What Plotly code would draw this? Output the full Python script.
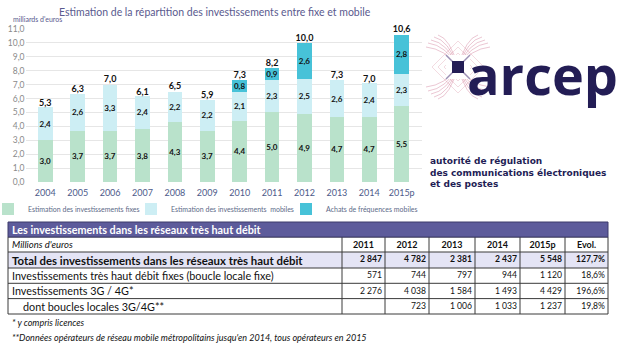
import plotly.graph_objects as go

W, H = 620, 350
def px(x): return x / W
def py(y): return 1 - y / H

# ---------------- data ----------------
years = ["2004", "2005", "2006", "2007", "2008", "2009", "2010", "2011", "2012", "2013", "2014", "2015p"]
fixes = [3.0, 3.7, 3.7, 3.8, 4.3, 3.7, 4.4, 5.0, 4.9, 4.7, 4.7, 5.5]
mobiles = [2.4, 2.6, 3.3, 2.4, 2.2, 2.2, 2.1, 2.3, 2.5, 2.6, 2.4, 2.3]
achats = [None, None, None, None, None, None, 0.8, 0.9, 2.6, None, None, 2.8]
totals = [5.3, 6.3, 7.0, 6.1, 6.5, 5.9, 7.3, 8.2, 10.0, 7.3, 7.0, 10.6]

tab_years = ["2011", "2012", "2013", "2014", "2015p"]
row_labels = ["Total des investissements dans les réseaux très haut débit",
              "Investissements très haut débit fixes (boucle locale fixe)",
              "Investissements 3G / 4G*",
              "dont boucles locales 3G/4G**"]
row_total = [2847, 4782, 2381, 2437, 5548]
row_fixes = [571, 744, 797, 944, 1120]
row_3g4g = [2276, 4038, 1584, 1493, 4429]
row_boucles = [None, 723, 1006, 1033, 1237]
evol = [127.7, 18.6, 196.6, 19.8]

C_FIX = "#b9e2cb"
C_MOB = "#cdeef4"
C_ACH = "#47c2d8"
NAVY = "#231d55"
TXT = "#5a5a8e"

fig = go.Figure()
bar_common = dict(texttemplate="<b>%{y:.1f}</b>", textposition="inside",
                  insidetextanchor="middle", textangle=0,
                  textfont=dict(size=8, color="#111", family="Lato"),
                  marker_line_width=0)
fig.add_trace(go.Bar(x=years, y=fixes, name="Estimation des investissements fixes",
                     marker_color=C_FIX, legend="legend", **bar_common))
fig.add_trace(go.Bar(x=years, y=mobiles, name="Estimation des investissements  mobiles",
                     marker_color=C_MOB, legend="legend2", **bar_common))
fig.add_trace(go.Bar(x=years, y=achats, name="Achats de fréquences mobiles",
                     marker_color=C_ACH, legend="legend3", **bar_common))
fig.add_trace(go.Scatter(x=years, y=totals, mode="text", texttemplate="<b>%{y:.1f}</b>",
                         textposition="top center", showlegend=False, hoverinfo="skip",
                         cliponaxis=False,
                         textfont=dict(size=9, color="#111", family="Lato")))

def legend_at(text_x):
    # item text starts 30px after the legend's left edge (itemwidth 30, indentation -10)
    return dict(orientation="h", x=px(text_x - 30), xanchor="left", y=py(209), yanchor="middle",
                font=dict(size=7, color="#5d6a88", family="Lato"),
                itemwidth=30, indentation=-10, bgcolor="rgba(0,0,0,0)")

fig.update_layout(
    width=W, height=H, margin=dict(l=0, r=0, t=0, b=0, autoexpand=False),
    paper_bgcolor="white", plot_bgcolor="white",
    barmode="stack", bargap=0.55, separators=", ",
    uniformtext=dict(minsize=8, mode="show"),
    font=dict(family="Lato", color=TXT),
    xaxis=dict(domain=[px(25.5), px(421.5)], anchor="y", showline=False, automargin=False,
               ticklabelstandoff=4,
               tickfont=dict(size=9, color="#4d5a8a", family="Lato"), ticks=""),
    yaxis=dict(domain=[py(182), py(29)], range=[0, 11], dtick=1, tickformat=".1f",
               gridcolor="#e6e6e6", zeroline=False, showline=False, automargin=False,
               tickfont=dict(size=8.5, color="#8a8a8a", family="Lato"), ticks=""),
    legend=legend_at(28),
    legend2=legend_at(171),
    legend3=legend_at(326),
)

# ---------------- table ----------------
NB = "\u00a0"
def nb(s):
    return s.replace(" ", NB)

def fmt(v):
    if v is None:
        return ""
    return f"{v:,}".replace(",", "\u202f")

def pct(v):
    return f"{v:.1f}".replace(".", ",") + "%"

def row_values(label, vals, ev, indent=0):
    return [NB * indent + nb(label)] + [fmt(v) for v in vals] + [pct(ev)]

r_total = row_values(row_labels[0], row_total, evol[0])
r_fixes = row_values(row_labels[1], row_fixes, evol[1])
r_3g4g = row_values(row_labels[2], row_3g4g, evol[2])
r_bouc = row_values(row_labels[3], row_boucles, evol[3], indent=4)

# drawn grid (column borders, row borders) of the table
BX = [8, 342, 385, 429, 475, 520, 565, 608]
BY = [237, 252, 268, 283.3, 298.6, 314]
SHIFT = 4          # plotly's table text sits low in short rows; lift the text layer
CLEAR = "rgba(0,0,0,0)"
NOLINE = dict(color=CLEAR, width=0)

# column edges of the text layers (left text pad 4px, right text pad 3px like the original)
hdr_edges = [BX[0] - 4] + BX[1:]
num_edges = [BX[0] - 4] + [b + 5 for b in BX[1:]]
hdr_w = [b - a for a, b in zip(hdr_edges[:-1], hdr_edges[1:])]
num_w = [b - a for a, b in zip(num_edges[:-1], num_edges[1:])]

# header row (Millions d'euros / years)
fig.add_trace(go.Table(
    domain=dict(x=[px(hdr_edges[0]), px(hdr_edges[-1])], y=[py(262), py(BY[0] - SHIFT)]),
    columnwidth=hdr_w,
    header=dict(values=[nb("Millions d'euros")] + tab_years + ["Evol."],
                align=["left"] + ["center"] * 6, height=BY[1] - BY[0],
                fill_color=CLEAR, line=NOLINE,
                font=dict(family="Lato", size=[9.5] + [9] * 6, color="#111",
                          weight=[400] + [700] * 6, style=["italic"] + ["normal"] * 6)),
))
# total row (bold)
fig.add_trace(go.Table(
    domain=dict(x=[px(num_edges[0]), px(num_edges[-1])], y=[py(278), py(BY[1] - SHIFT)]),
    columnwidth=num_w,
    header=dict(values=r_total, align=["left"] + ["right"] * 6, height=BY[2] - BY[1],
                fill_color=CLEAR, line=NOLINE,
                font=dict(family="Lato", size=[11.4] + [8.6] * 6, color="#111", weight=700)),
))
# other rows
fig.add_trace(go.Table(
    domain=dict(x=[px(num_edges[0]), px(num_edges[-1])], y=[py(330), py(BY[2] - SHIFT)]),
    columnwidth=num_w,
    header=dict(values=r_fixes, align=["left"] + ["right"] * 6, height=BY[3] - BY[2],
                fill_color=CLEAR, line=NOLINE,
                font=dict(family="Lato", size=[10.8] + [8.6] * 6, color="#111", weight=400)),
    cells=dict(values=[[a, b] for a, b in zip(r_3g4g, r_bouc)], align=["left"] + ["right"] * 6,
               height=BY[4] - BY[3], fill_color=CLEAR, line=NOLINE,
               font=dict(family="Lato", size=[10.8] + [8.6] * 6, color="#111", weight=400)),
))

shapes = []
annotations = []
# total row background
shapes.append(dict(type="rect", xref="paper", yref="paper", layer="below",
                   x0=px(BX[0]), x1=px(BX[-1]), y0=py(BY[2]), y1=py(BY[1]),
                   fillcolor="#e4e4f5", line=dict(width=0)))
# table grid
for yy in BY:
    shapes.append(dict(type="line", xref="paper", yref="paper", x0=px(BX[0]), x1=px(BX[-1]),
                       y0=py(yy), y1=py(yy), line=dict(color="#3a3a3a", width=1)))
for xx in BX:
    shapes.append(dict(type="line", xref="paper", yref="paper", x0=px(xx), x1=px(xx),
                       y0=py(BY[0]), y1=py(BY[-1]), line=dict(color="#3a3a3a", width=1)))
# table title bar
shapes.append(dict(type="rect", xref="paper", yref="paper", x0=px(8), x1=px(608),
                   y0=py(237), y1=py(222), fillcolor="#5d5b9b", line=dict(color="#3d3b6b", width=1)))
annotations.append(dict(xref="paper", yref="paper", x=px(10), y=py(229.5), xanchor="left",
                        yanchor="middle", showarrow=False,
                        text="<b>Les investissements dans les réseaux très haut débit</b>",
                        font=dict(family="Lato", size=10.8, color="white")))
# footnotes
annotations.append(dict(xref="paper", yref="paper", x=px(10), y=py(322), xanchor="left",
                        yanchor="middle", showarrow=False, text="<i>* y compris licences</i>",
                        font=dict(family="Lato", size=9, color="#111")))
annotations.append(dict(xref="paper", yref="paper", x=px(10), y=py(337), xanchor="left",
                        yanchor="middle", showarrow=False,
                        text="<i>**Données opérateurs de réseau mobile métropolitains jusqu'en 2014, tous opérateurs en 2015</i>",
                        font=dict(family="Lato", size=9, color="#111")))
# chart title & unit
annotations.append(dict(xref="paper", yref="paper", x=px(215), y=py(12), xanchor="center",
                        yanchor="middle", showarrow=False,
                        text="Estimation de la répartition des investissements entre fixe et mobile",
                        font=dict(family="Lato", size=10.5, color=TXT)))
annotations.append(dict(xref="paper", yref="paper", x=px(11), y=py(19), xanchor="left",
                        yanchor="middle", showarrow=False, text="milliards d'euros",
                        font=dict(family="Lato", size=7, color=TXT)))

# logo
cx, cy = 458, 67
for i, (dx, dy) in enumerate([(30, 24), (24, 30), (27, 27), (20, 32), (32, 20)]):
    for sx in (-1, 1):
        for sy in (-1, 1):
            shapes.append(dict(type="path", xref="paper", yref="paper",
                               path=f"M{px(cx)},{py(cy)} Q{px(cx+sx*dx*0.4)},{py(cy+sy*dy*0.9)} {px(cx+sx*dx)},{py(cy+sy*dy)}",
                               line=dict(color="rgba(190,70,110,0.3)", width=1)))
for r in (26, 20, 14):
    shapes.append(dict(type="path", xref="paper", yref="paper",
                       path=f"M{px(cx-r)},{py(cy)} L{px(cx)},{py(cy-r)} L{px(cx+r)},{py(cy)} L{px(cx)},{py(cy+r)} Z",
                       line=dict(color="rgba(200,90,120,0.22)", width=1)))
shapes.append(dict(type="rect", xref="paper", yref="paper", x0=px(cx-12), x1=px(cx+12),
                   y0=py(cy+12), y1=py(cy-12), fillcolor="white", line=dict(width=0)))
for sx in (-1, 1):
    for sy in (-1, 1):
        shapes.append(dict(type="path", xref="paper", yref="paper",
                           path=f"M{px(cx)},{py(cy)} L{px(cx+sx*12)},{py(cy+sy*12)}",
                           line=dict(color="rgba(90,70,130,0.6)", width=1.5)))
shapes.append(dict(type="rect", xref="paper", yref="paper", x0=px(cx-6), x1=px(cx+6),
                   y0=py(cy+6), y1=py(cy-6), fillcolor=NAVY, line=dict(width=0)))
annotations.append(dict(xref="paper", yref="paper", x=px(465), y=py(74), xanchor="left",
                        yanchor="middle", showarrow=False, text="<b>arcep</b>",
                        font=dict(family="Open Sans", size=54, color=NAVY)))
annotations.append(dict(xref="paper", yref="paper", x=px(428), y=py(172), xanchor="left",
                        yanchor="middle", showarrow=False, align="left",
                        text="<b>autorité de régulation<br>des communications électroniques<br>et des postes</b>",
                        font=dict(family="DejaVu Sans", size=9, color=NAVY)))

fig.update_layout(shapes=shapes, annotations=annotations)
fig.write_html("out.html")
